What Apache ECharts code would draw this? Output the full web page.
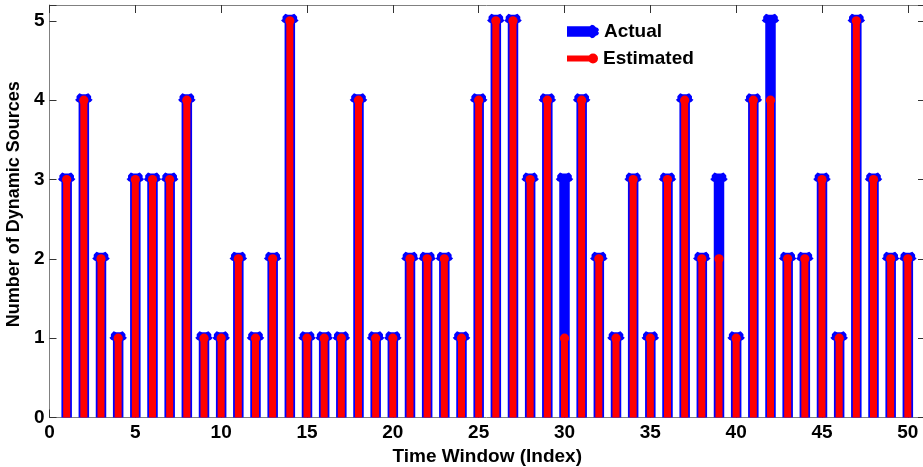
<!DOCTYPE html>
<html>
<head>
<meta charset="utf-8">
<script src="https://cdn.jsdelivr.net/npm/echarts@6/dist/echarts.min.js"></script>
<style>
  html, body { margin: 0; padding: 0; background: #ffffff; }
  #chart { width: 923px; height: 467px; }
</style>
</head>
<body>
<div id="chart"></div>
<script>
// Time windows (x positions of the stems)
const timeWindows = [1, 2, 3, 4, 5, 6, 7, 8, 9, 10,
  11, 12, 13, 14, 15, 16, 17, 18, 19, 20,
  21, 22, 23, 24, 25, 26, 27, 28, 29, 30,
  31, 32, 33, 34, 35, 36, 37, 38, 39, 40,
  41, 42, 43, 44, 45, 46, 47, 48, 49, 50];

// Actual number of dynamic sources per window
const actualSources = [3, 4, 2, 1, 3, 3, 3, 4, 1, 1,
  2, 1, 2, 5, 1, 1, 1, 4, 1, 1,
  2, 2, 2, 1, 4, 5, 5, 3, 4, 3,
  4, 2, 1, 3, 1, 3, 4, 2, 3, 1,
  4, 5, 2, 2, 3, 1, 5, 3, 2, 2];

// Estimated number of dynamic sources per window
const estimatedSources = [3, 4, 2, 1, 3, 3, 3, 4, 1, 1,
  2, 1, 2, 5, 1, 1, 1, 4, 1, 1,
  2, 2, 2, 1, 4, 5, 5, 3, 4, 1,
  4, 2, 1, 3, 1, 3, 4, 2, 2, 1,
  4, 4, 2, 2, 3, 1, 5, 3, 2, 2];

const xTicks = [0, 5, 10, 15, 20, 25, 30, 35, 40, 45, 50];
const yTicks = [0, 1, 2, 3, 4, 5];

const FONT = '"Liberation Sans", Arial, sans-serif';
const BLUE = '#0000ff';
const RED = '#ff0000';
const AXIS_GRAY = '#808080';

// Outline of the blue stem head, relative to the value point
const HEAD = [[-4.5, -7], [-2, -6], [2, -6], [4.5, -7], [6, -5.5], [7.3, -4],
  [7.3, -1.5], [8.8, -0.5], [7, 1.5], [5, 2.5], [-5, 2.5], [-7, 1.5],
  [-8.8, -0.5], [-7.3, -1.5], [-7.3, -4], [-6, -5.5]];

const chart = echarts.init(document.getElementById('chart'), null, { renderer: 'canvas' });

// Blue stem with a thick star-like head
function actualItem(params, api) {
  const x = api.value(0), v = api.value(1);
  const p0 = api.coord([x, 0]);
  const p1 = api.coord([x, v]);
  return {
    type: 'group',
    children: [{
      type: 'line',
      shape: { x1: p0[0], y1: p0[1], x2: p1[0], y2: p1[1] },
      style: { stroke: BLUE, lineWidth: 10.5, lineCap: 'butt' }
    }, {
      type: 'polygon',
      shape: { points: HEAD.map(function (d) { return [p1[0] + d[0], p1[1] + d[1]]; }) },
      style: { fill: BLUE }
    }]
  };
}

// Red stem with a round dot head
function estimatedItem(params, api) {
  const x = api.value(0), v = api.value(1);
  const p0 = api.coord([x, 0]);
  const p1 = api.coord([x, v]);
  return {
    type: 'group',
    children: [{
      type: 'line',
      shape: { x1: p0[0], y1: p0[1], x2: p1[0], y2: p1[1] },
      style: { stroke: RED, lineWidth: 7, lineCap: 'butt' }
    }, {
      type: 'circle',
      shape: { cx: p1[0], cy: p1[1], r: 4.6 },
      style: { fill: RED }
    }]
  };
}

const tickFmt = function (list) {
  return function (v) { return list.indexOf(v) >= 0 ? String(v) : ''; };
};

const labelStyle = { fontFamily: FONT, fontSize: 19, fontWeight: 'bold', color: '#000' };

const option = {
  animation: false,
  backgroundColor: '#ffffff',
  grid: { left: 49.5, right: -2, top: 5, bottom: 49.5, containLabel: false, outerBoundsMode: 'none' },
  legend: [{
    data: ['Actual'],
    left: 567, top: 22, padding: 0,
    itemWidth: 32, itemHeight: 14, itemGap: 0,
    icon: 'path://M0,2H23V12H0Z M22,2 L24,0.5 L26,1 L28,3 L30,3.5 L31,5.5 L30,7 L31,8.5 L30,10.5 L28,11 L26,13 L24,13.5 L22,12 Z',
    textStyle: labelStyle
  }, {
    data: ['Estimated'],
    left: 567, top: 49, padding: 0,
    itemWidth: 31, itemHeight: 10, itemGap: 0,
    icon: 'path://M0,2H26V8H0Z M21,5 A5,5 0 1,1 31,5 A5,5 0 1,1 21,5 Z',
    textStyle: labelStyle
  }],
  xAxis: [{
    type: 'value', position: 'bottom', min: 0, max: 51, interval: 5,
    name: 'Time Window (Index)', nameLocation: 'middle', nameGap: 21,
    nameTextStyle: labelStyle,
    axisLine: { show: true, onZero: false, lineStyle: { color: AXIS_GRAY, width: 1 } },
    axisTick: { show: true, inside: true, length: 8, lineStyle: { color: '#333', width: 1 } },
    axisLabel: Object.assign({ margin: 6, formatter: tickFmt(xTicks) }, labelStyle),
    splitLine: { show: false }
  }, {
    type: 'value', position: 'top', min: 0, max: 51, interval: 5,
    axisLine: { show: true, onZero: false, lineStyle: { color: AXIS_GRAY, width: 1 } },
    axisTick: { show: true, inside: true, length: 8, lineStyle: { color: '#333', width: 1 } },
    axisLabel: { show: false },
    splitLine: { show: false }
  }],
  yAxis: [{
    type: 'value', position: 'left', min: 0, max: 5.2, interval: 1,
    name: 'Number of Dynamic Sources', nameLocation: 'middle', nameGap: 14,
    nameTextStyle: Object.assign({}, labelStyle, { fontSize: 18, padding: [0, 0, 0, 14] }),
    axisLine: { show: true, onZero: false, lineStyle: { color: AXIS_GRAY, width: 1 } },
    axisTick: { show: true, inside: true, length: 7, lineStyle: { color: '#333', width: 1 } },
    axisLabel: Object.assign({ margin: 5, formatter: tickFmt(yTicks) }, labelStyle),
    splitLine: { show: false }
  }, {
    type: 'value', position: 'right', min: 0, max: 5.2, interval: 1,
    axisLine: { show: true, onZero: false, lineStyle: { color: AXIS_GRAY, width: 1 } },
    axisTick: { show: true, inside: true, length: 7, lineStyle: { color: '#333', width: 1 } },
    axisLabel: { show: false },
    splitLine: { show: false }
  }],
  series: [{
    name: 'Actual',
    type: 'custom',
    xAxisIndex: 0, yAxisIndex: 0,
    itemStyle: { color: BLUE },
    renderItem: actualItem,
    encode: { x: 0, y: 1 },
    data: timeWindows.map(function (t, i) { return [t, actualSources[i]]; })
  }, {
    name: 'Estimated',
    type: 'custom',
    xAxisIndex: 0, yAxisIndex: 0,
    itemStyle: { color: RED },
    renderItem: estimatedItem,
    encode: { x: 0, y: 1 },
    data: timeWindows.map(function (t, i) { return [t, estimatedSources[i]]; })
  }]
};

chart.setOption(option);
</script>
</body>
</html>
